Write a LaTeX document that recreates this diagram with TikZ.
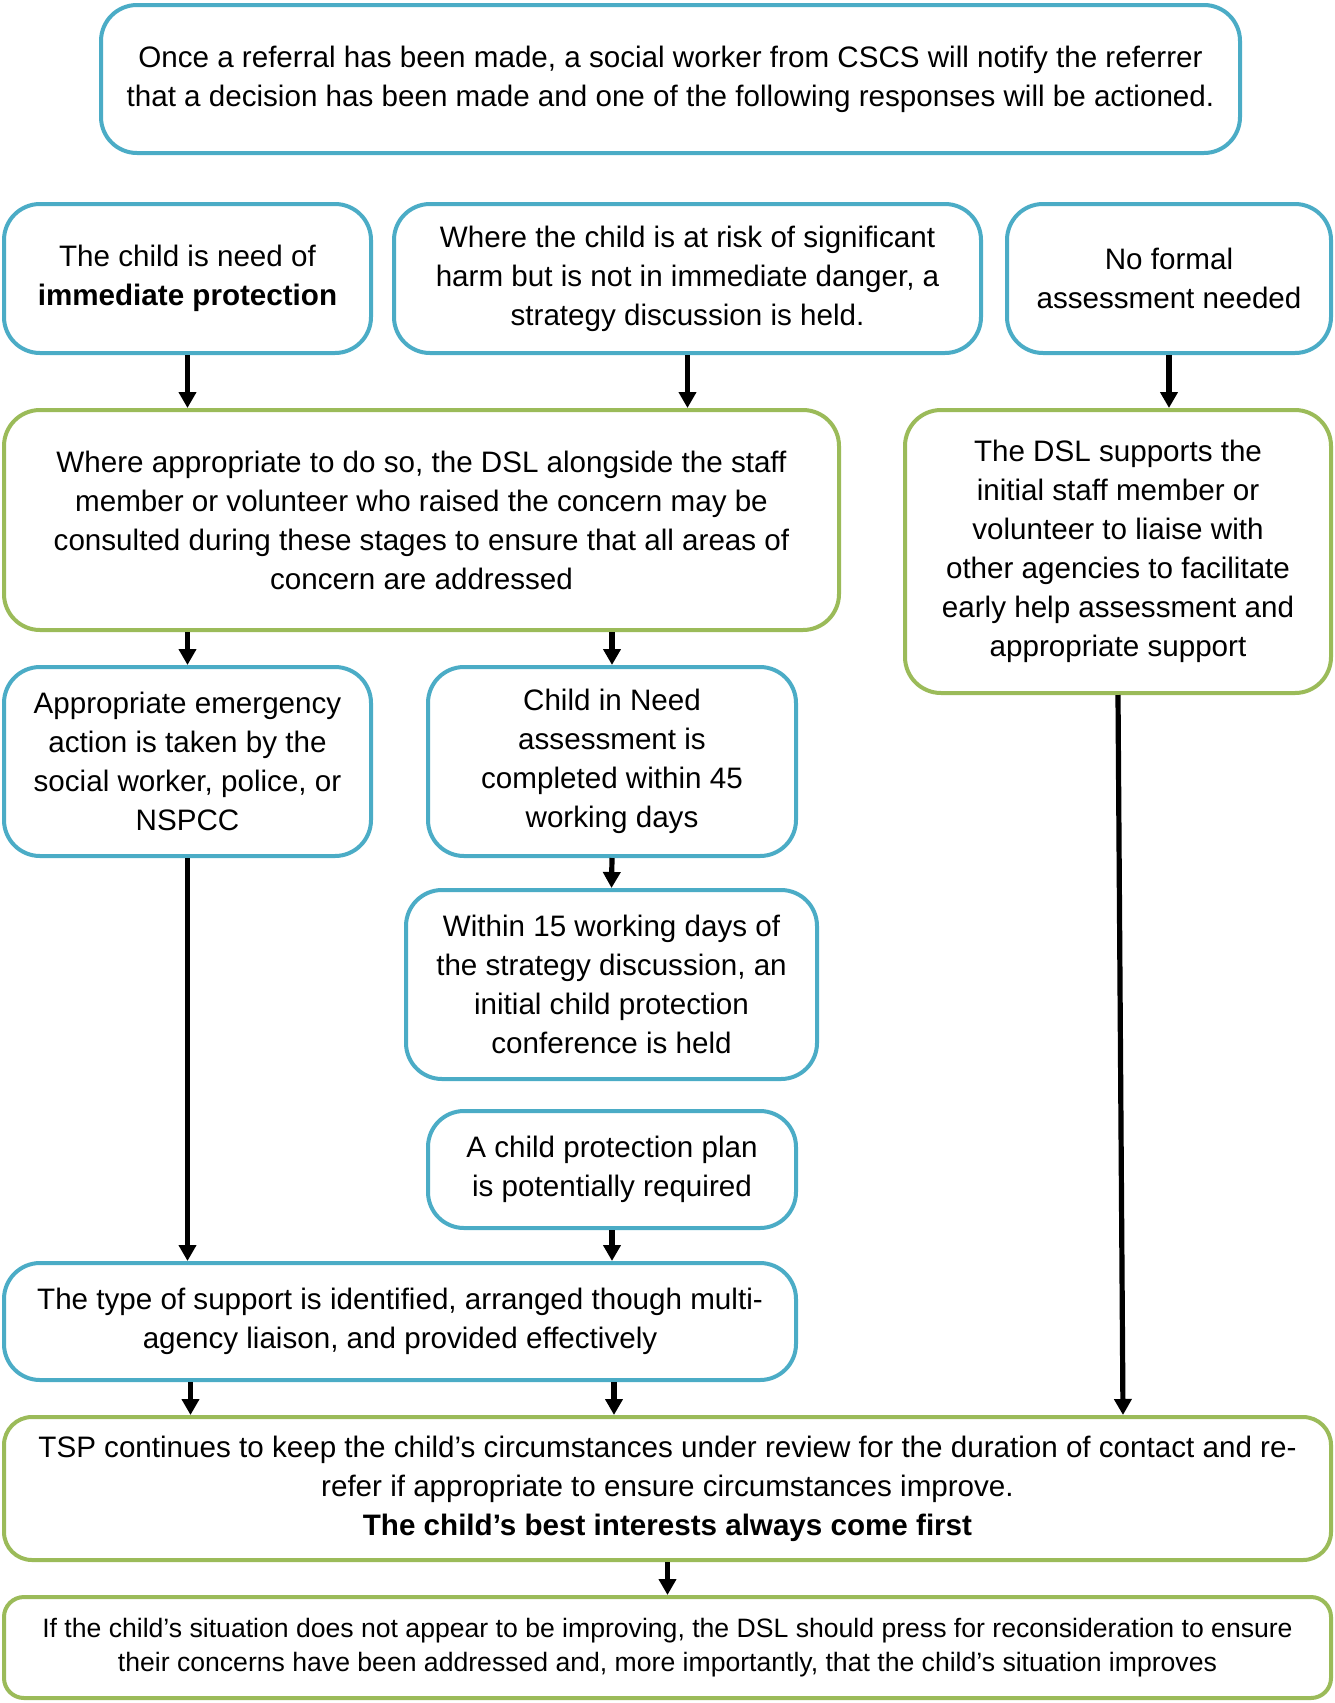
\documentclass[tikz,border=0pt]{standalone}
\usepackage{fontspec}
\setmainfont{Liberation Sans}
\usetikzlibrary{arrows.meta,positioning}
\definecolor{boxblue}{HTML}{4BACC6}
\definecolor{boxgreen}{HTML}{9BBB59}
\begin{document}
\begin{tikzpicture}[x=0.5pt, y=-0.5pt, >={Triangle[width=8.5pt,length=8pt]},
  box/.style={rectangle, rounded corners=18pt, line width=2pt, align=center, fill=white,
    font=\fontsize{14.8}{19.5}\selectfont, inner sep=0pt},
  bluebox/.style={box, draw=boxblue},
  greenbox/.style={box, draw=boxgreen},
  arr/.style={->, line width=2.6pt}]
\useasboundingbox (0,0) rectangle (1334,1703);

\node[bluebox, minimum width=569.5pt, minimum height=74pt] (referral) at (670.5,79)
  {Once a referral has been made, a social worker from CSCS will notify the referrer\\
   that a decision has been made and one of the following responses will be actioned.};

\node[bluebox, minimum width=183.5pt, minimum height=74.5pt] (protect) at (187.5,278.5)
  {The child is need of\\ \textbf{immediate protection}};
\node[bluebox, minimum width=293.5pt, minimum height=74.5pt] (risk) at (687.5,278.5)
  {Where the child is at risk of significant\\ harm but is not in immediate danger, a\\ strategy discussion is held.};
\node[bluebox, minimum width=162pt, minimum height=74.5pt] (noformal) at (1169,278.5)
  {No formal\\ assessment needed};

\node[greenbox, minimum width=417.5pt, minimum height=110pt] (dsl) at (421.5,520)
  {Where appropriate to do so, the DSL alongside the staff\\
   member or volunteer who raised the concern may be\\
   consulted during these stages to ensure that all areas of\\
   concern are addressed};
\node[greenbox, minimum width=213pt, minimum height=141.5pt] (support) at (1118,551.5)
  {The DSL supports the\\ initial staff member or\\ volunteer to liaise with\\
   other agencies to facilitate\\ early help assessment and\\ appropriate support};

\node[bluebox, minimum width=183.5pt, minimum height=94.5pt] (emergency) at (187.5,761.5)
  {Appropriate emergency\\ action is taken by the\\ social worker, police, or\\ NSPCC};
\node[bluebox, minimum width=184pt, minimum height=94.5pt] (cin) at (612,761.5)
  {Child in Need\\ assessment is\\ completed within 45\\ working days};
\node[bluebox, minimum width=205.5pt, minimum height=94.5pt] (conference) at (611.5,984.5)
  {Within 15 working days of\\ the strategy discussion, an\\ initial child protection\\ conference is held};
\node[bluebox, minimum width=184pt, minimum height=58.5pt] (plan) at (612,1169.5)
  {A child protection plan\\ is potentially required};

\node[bluebox, minimum width=396pt, minimum height=58.5pt] (typesupport) at (400,1321.5)
  {The type of support is identified, arranged though multi-\\ agency liaison, and provided effectively};

\node[greenbox, rounded corners=14pt, minimum width=663.5pt, minimum height=71.5pt] (review) at (667.5,1488.5)
  {TSP continues to keep the child’s circumstances under review for the duration of contact and re-\\
   refer if appropriate to ensure circumstances improve.\\ \textbf{The child’s best interests always come first}};
\node[greenbox, rounded corners=10pt, minimum width=663.5pt, minimum height=50.5pt,
  font=\fontsize{13.3}{16.9}\selectfont] (press) at (667.5,1647.5)
  {If the child’s situation does not appear to be improving, the DSL should press for reconsideration to ensure\\
   their concerns have been addressed and, more importantly, that the child’s situation improves};

% connectors
\draw[arr] (protect.south) -- (protect.south |- dsl.north);
\draw[arr] (risk.south) -- (risk.south |- dsl.north);
\draw[arr] (noformal.south) -- (noformal.south |- support.north);
\draw[arr] (emergency.north |- dsl.south) -- (emergency.north);
\draw[arr] (cin.north |- dsl.south) -- (cin.north);
\draw[arr] (cin.south) -- (conference.north);
\draw[arr] (emergency.south) -- (emergency.south |- typesupport.north);
\draw[arr] (plan.south) -- (plan.south |- typesupport.north);
\draw[arr] ([xshift=1.5pt]emergency.south |- typesupport.south) -- ([xshift=1.5pt]emergency.south |- review.north);
\draw[arr] ([xshift=1pt]plan.south |- typesupport.south) -- ([xshift=1pt]plan.south |- review.north);
\draw[arr] (support.south) -- ([xshift=2.5pt]support.south |- review.north);
\draw[arr] (review.south) -- (press.north);

\end{tikzpicture}
\end{document}
